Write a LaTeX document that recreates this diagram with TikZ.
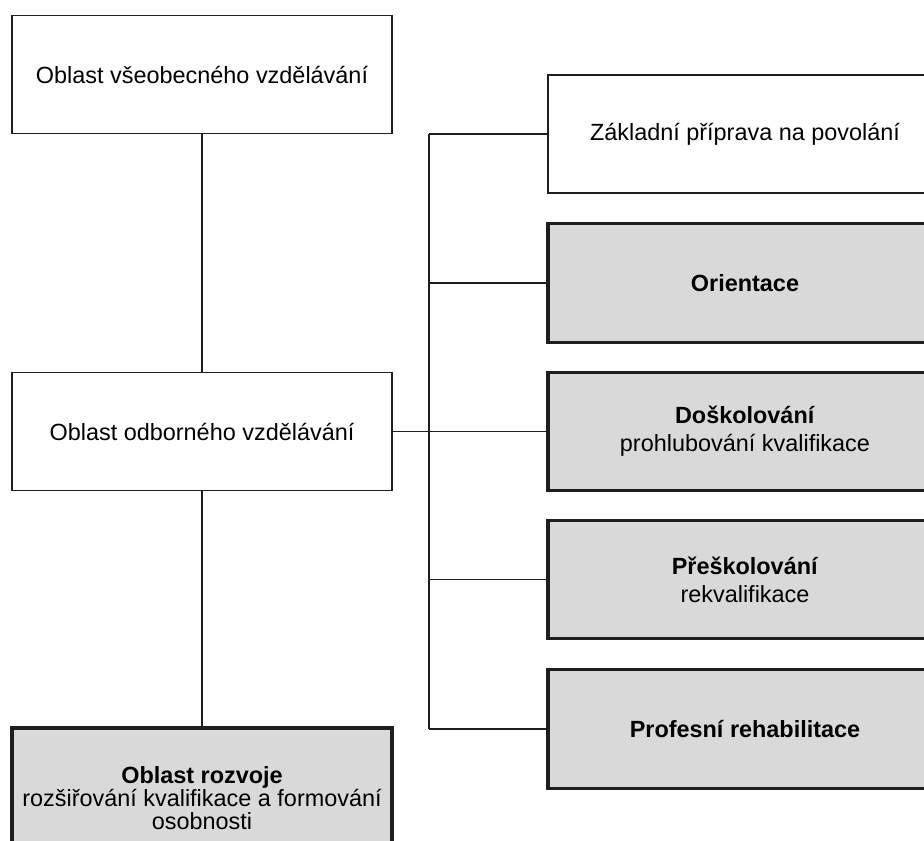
\documentclass[tikz,border=0pt]{standalone}
\usepackage{fontspec}
\setmainfont{Liberation Sans}
\usepackage{xcolor}
\usepackage{tikz}
\usetikzlibrary{positioning}
\definecolor{lineDark}{RGB}{30,30,30}
\definecolor{boxGray}{RGB}{217,217,217}
\tikzset{
  plainbox/.style={
    rectangle, draw=lineDark, line width=1.2pt, fill=white,
    minimum width=11.4cm, minimum height=3.55cm, inner sep=0pt,
    align=center, font=\fontsize{20}{24}\selectfont
  },
  keybox/.style={plainbox, fill=boxGray, line width=2.6pt},
  rightbox/.style={minimum width=11.82cm},
  link/.style={draw=lineDark, line width=1.2pt}
}
\begin{document}
\begin{tikzpicture}[x=0.03cm, y=-0.03cm]
        \useasboundingbox (0,0) rectangle (924,841);
        \clip (0,0) rectangle (924,841);
        % left column
        \node[plainbox] (gen) at (202,74.5)
          {Oblast všeobecného vzdělávání};
        \node[plainbox] (voc) at (202,431.5)
          {Oblast odborného vzdělávání};
        \node[keybox, minimum height=4.2cm,
              font=\fontsize{20}{19.8}\selectfont] (dev) at (202,798)
          {\textbf{Oblast rozvoje}\\
           rozšiřování kvalifikace a formování\\
           osobnosti};
        % right column
        \node[plainbox, rightbox] (basic) at (745,134)
          {Základní příprava na povolání};
        \node[keybox, rightbox] (orient) at (745,283)
          {\textbf{Orientace}};
        \node[keybox, rightbox] (further) at (745,431.5)
          {\textbf{Doškolování}\\
           prohlubování kvalifikace};
        \node[keybox, rightbox] (retrain) at (745,579.5)
          {\textbf{Přeškolování}\\
           rekvalifikace};
        \node[keybox, rightbox] (rehab) at (745,729)
          {\textbf{Profesní rehabilitace}};
        % connectors
        \coordinate (bus) at (429,431.5);
        \draw[link] (gen) -- (voc);
        \draw[link] (voc) -- (dev);
        \draw[link] (voc) -- (bus);
        \draw[link] (basic.west -| bus) -- (rehab.west -| bus);
        \foreach \n in {basic,orient,further,retrain,rehab}
          \draw[link] (\n.west -| bus) -- (\n.west);
      \end{tikzpicture}
\end{document}
